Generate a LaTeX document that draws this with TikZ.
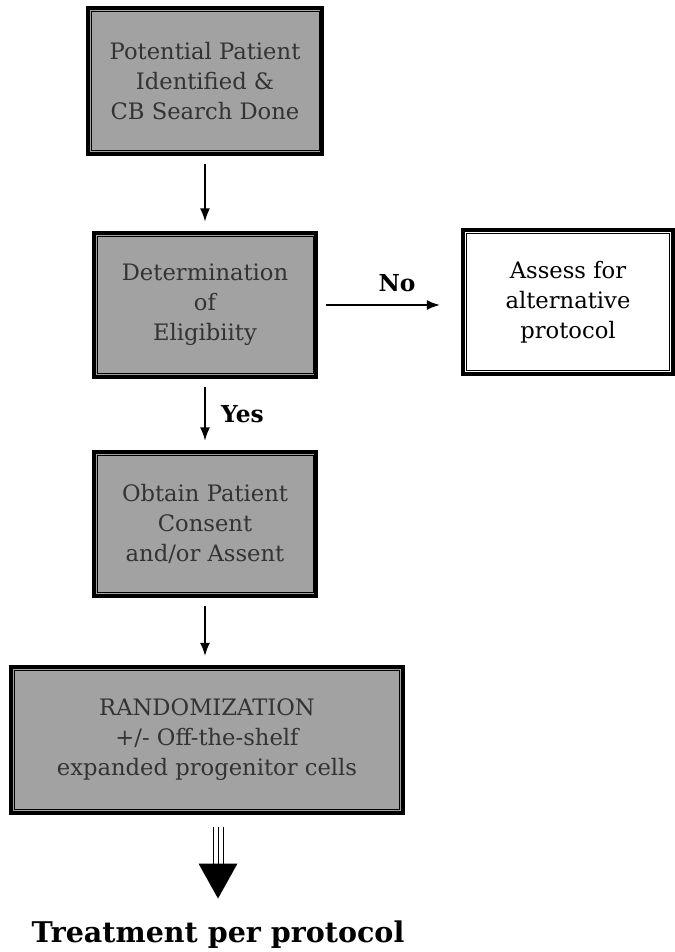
\documentclass[tikz,border=0pt]{standalone}
\usepackage{fontspec}
\setmainfont{DejaVu Serif}
\usetikzlibrary{arrows.meta}
\definecolor{boxgray}{HTML}{A2A2A2}
\definecolor{boxtext}{HTML}{333333}
\begin{document}
\begin{tikzpicture}[x = 0.75pt, y = -0.75pt,
    stage/.style = {draw, line width = 2.8pt, fill = boxgray, text = boxtext, align = center,
        font = \fontsize{17}{22.5}\selectfont, minimum width = 167pt, minimum height = 108pt},
    alt/.style = {stage, fill = white, text = black, minimum width = 157pt},
    flow/.style = {-{Latex[length = 10pt, width = 7.5pt]}, line width = 1.5pt,
        shorten <= 6pt, shorten >= 7pt},
    lbl/.style = {font = \bfseries\fontsize{17.5}{21}\selectfont}]
    \useasboundingbox (0,0) rectangle (674,952);
    % boxes
    \node[stage, minimum width = 176pt, minimum height = 109pt] (found) at (205,81)
        {Potential Patient\\Identified \&\\CB Search Done};
    \node[stage] (elig) at (205,305) {Determination\\of\\Eligibiity};
    \node[alt] (assess) at (568,302) {Assess for\\alternative\\protocol};
    \node[stage] (consent) at (205,524) {Obtain Patient\\Consent\\and/or Assent};
    \node[stage, minimum width = 294pt, minimum height = 109pt] (random) at (207,740)
        {RANDOMIZATION\\+/- Off-the-shelf\\expanded progenitor cells};
    \node[font = \bfseries\fontsize{21.4}{26}\selectfont] (treat) at (218,935)
        {Treatment per protocol};
    % inner frames
    \foreach \n in {found, elig, assess, consent, random}
        \draw[line width = 0.5pt] ([shift = {(3.8pt,-3.8pt)}]\n.north west)
            rectangle ([shift = {(-3.8pt,3.8pt)}]\n.south east);
    % arrows
    \draw[flow] (found) -- (elig);
    \draw[flow] (elig) -- node[lbl, right = 8pt] (yes) {Yes} (consent);
    \draw[flow, shorten >= 16pt] (elig.east) -- node[lbl, above = 6pt, pos = 0.55] (no) {No}
        (elig.east -| assess.west);
    \draw[flow] (consent) -- (consent |- random.north);
    % triple stem and big head
    \path (random.south -| treat.north) ++(0,12) coordinate (stem);
    \path (stem) ++(0,72) coordinate (tip);
    \foreach \dx in {-5, 0, 5}
        \draw[line width = 0.7pt] ([shift = {(\dx,0)}]stem) -- ++(0,38);
    \fill (tip) -- ++(-19.5,-35) -- ++(39,0) -- cycle;
\end{tikzpicture}
\end{document}
